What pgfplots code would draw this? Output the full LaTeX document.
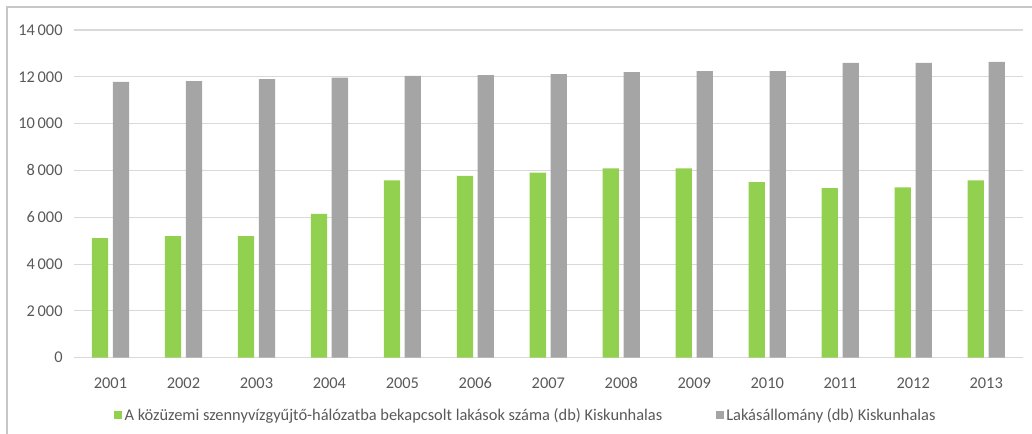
\documentclass[border=0pt]{standalone}
\usepackage{fontspec}
\setmainfont{Carlito}
\usepackage{pgfplots}
\pgfplotsset{compat=1.18}
\definecolor{barGreen}{HTML}{92D050}
\definecolor{barGray}{HTML}{A5A5A5}
\definecolor{txt}{HTML}{595959}
\definecolor{gridc}{HTML}{D9D9D9}
\begin{document}
\begin{tikzpicture}
\useasboundingbox (-55.5pt,-57.2pt) rectangle (718.5pt,268.3pt);
\draw[color=gridc!80!gray, line width=1pt] (-50.25pt,-57.2pt) -- (-50.25pt,263pt) -- (718.5pt,263pt);
\begin{axis}[
  at={(0,0)}, anchor=south west,
  scale only axis,
  width=711.5pt, height=245.8pt,
  ybar=3.5pt, bar width=12.2pt,
  xmin=-0.5, xmax=12.5,
  ymin=0, ymax=14000,
  ytick={0,2000,...,14000},
  xtick=data,
  xticklabels={2001,2002,2003,2004,2005,2006,2007,2008,2009,2010,2011,2012,2013},
  scaled y ticks=false,
  axis line style={draw=none},
  major tick style={draw=none},
  ymajorgrids,
  grid style={gridc, line width=0.8pt},
  tick label style={font=\fontsize{12.3}{14}\selectfont, color=txt},
  /pgf/number format/assume math mode=true,
  /pgf/number format/1000 sep={\,},
  yticklabel style={xshift=-5pt},
  xticklabel style={anchor=base, yshift=-19pt},
  legend columns=2,
  legend style={draw=none, fill=none, font=\fontsize{12.3}{14}\selectfont, text=txt,
    at={(0.4765,-0.175)}, anchor=center,
    /tikz/every even column/.append style={column sep=38pt}},
  legend image code/.code={\fill[#1] (0pt,-3pt) rectangle (6pt,3pt);},
]
\addplot[fill=barGreen, draw=none] coordinates {
(0,5110) (1,5190) (2,5190) (3,6150) (4,7580) (5,7770) (6,7910)
(7,8090) (8,8090) (9,7500) (10,7240) (11,7280) (12,7580)};
\addlegendentry{A közüzemi szennyvízgyűjtő-hálózatba bekapcsolt lakások száma (db) Kiskunhalas}
\addplot[fill=barGray, draw=none] coordinates {
(0,11780) (1,11820) (2,11900) (3,11970) (4,12040) (5,12070) (6,12110)
(7,12200) (8,12240) (9,12240) (10,12590) (11,12590) (12,12640)};
\addlegendentry{Lakásállomány (db) Kiskunhalas}
\end{axis}
\end{tikzpicture}
\end{document}
